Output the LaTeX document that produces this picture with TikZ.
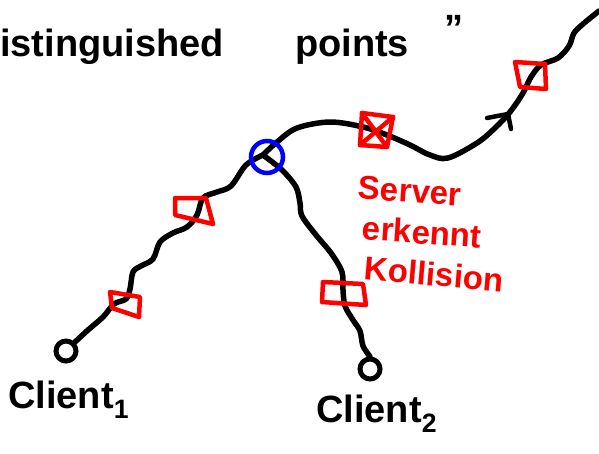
\documentclass[tikz,border=0pt]{standalone}
\usepackage{fontspec}
\setmainfont{Liberation Sans}
\begin{document}
\begin{tikzpicture}[x=1pt,y=-1pt,
  ink/.style={line width=5.5pt,line cap=round,line join=round,black},
  redbox/.style={line width=4.5pt,red,line join=round,line cap=round},
  endpt/.style={circle,draw,line width=5pt,minimum size=20pt,inner sep=0pt},
  hub/.style={circle,draw=blue,line width=4.5pt,minimum size=32pt,inner sep=0pt},
  note/.style={text=red,font=\bfseries\fontsize{33}{35}\selectfont,inner sep=0pt},
  hand/.style={font=\bfseries\fontsize{38}{42}\selectfont,inner sep=0pt},
  clientlbl/.style={font=\bfseries\fontsize{38}{42}\selectfont,inner sep=0pt}]
\useasboundingbox (0,0) rectangle (599,453);
\fill[white] (0,0) rectangle (599,453);

% endpoints
\node[endpt] (c1) at (66,351) {};
\node[endpt] (c2) at (370,369) {};
\coordinate (j) at (263,155);
\coordinate (top) at (599,11);

% left branch
\draw[ink] plot[smooth,tension=0.55] coordinates {(c1.45) (88,330) (103,317) (114,304) (126,299) (130,289) (133,272) (141,266) (153,259) (160,242) (173,233) (187,227) (197,215) (203,198) (217,192) (231,186) (246,165) (j)};
% right branch
\draw[ink] plot[smooth,tension=0.55] coordinates {(j) (282,170) (296,187) (300,203) (302,216) (316,235) (331,253) (342,272) (343,290) (345,306) (353,320) (360,331) (363,346) (c2.north)};
% top branch
\draw[ink] plot[smooth,tension=0.55] coordinates {(j) (277,142) (297,128) (330,122) (363,127) (387,135) (410,145) (430,155) (448,158) (477,143) (495,128) (510,112) (523,93) (531,77) (541,65) (558,58) (569,46) (574,33) (583,24) (top)};
% arrow head on top branch
\coordinate (tip) at (508,114);
\draw[ink,line width=4.5pt] (487,118) -- (tip) -- (511,129);

% hub
\node[hub] (hubc) at (267,157) {};

% red marks
\draw[redbox] (110,292) -- (140,297) -- (139,317) -- (112,308) -- cycle;
\draw[redbox] (175,198) -- (206,198) -- (213,224) -- (175,215) -- cycle;
\draw[redbox] (323,282) -- (363,284) -- (366,305) -- (322,302) -- cycle;
\draw[redbox] (362,113) -- (393,117) -- (387,147) -- (360,145) -- cycle;
\draw[redbox] (362,113) -- (387,147) (393,117) -- (360,145);
\draw[redbox] (515,62) -- (545,64) -- (546,89) -- (520,87) -- cycle;

% texts
\node[hand,anchor=west] (t1) at (0,47) {istinguished};
\node[hand] (t2) at (352,47) {points};
\node[hand] (t3) at (454,28) {''};
\node[note,rotate=-4] (n1) at (410,191) {Server};
\node[note,rotate=-4] (n2) at (422,232) {erkennt};
\node[note,rotate=-5] (n3) at (434,274) {Kollision};
\node[clientlbl,anchor=west] (l1) at (8,400) {Client$_{\mathbf 1}$};
\node[clientlbl,anchor=west] (l2) at (316,414) {Client$_{\mathbf 2}$};
\end{tikzpicture}
\end{document}
